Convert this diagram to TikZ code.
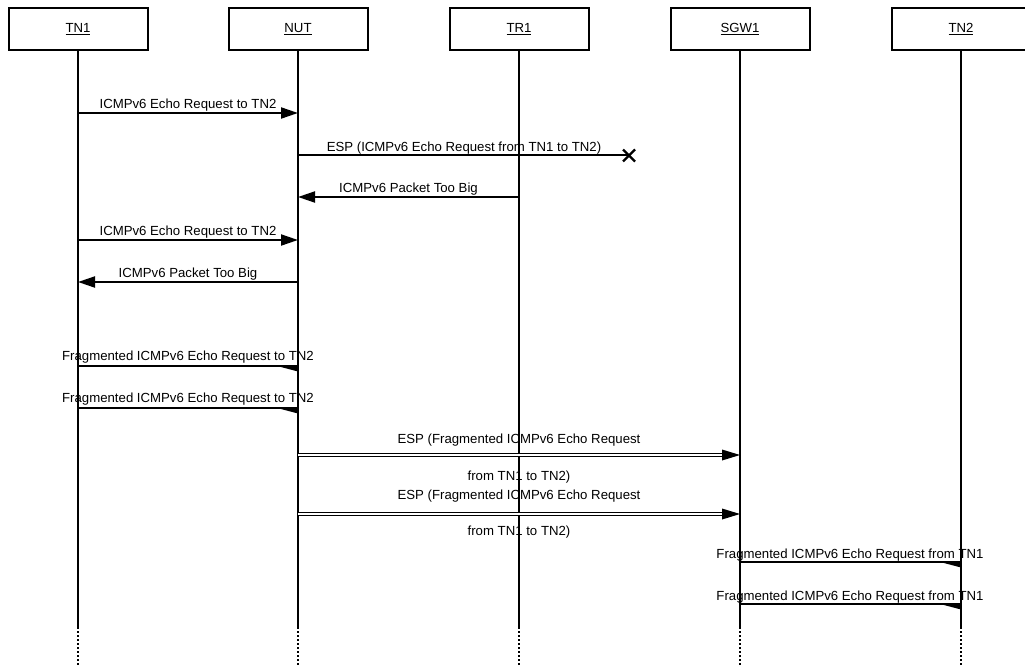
\documentclass[tikz,border=0pt]{standalone}
\usepackage{fontspec}
\setmainfont{Liberation Sans}
\usetikzlibrary{arrows.meta,calc}
\begin{document}
\begin{tikzpicture}[x=1pt,y=-1pt,
  actor/.style={draw, line width=2pt, minimum width=139pt, minimum height=42pt, inner sep=0pt, font=\fontsize{13.2}{15}\selectfont},
  life/.style={line width=2pt},
  lifedot/.style={line width=2pt, dash pattern=on 2pt off 2pt},
  msg/.style={line width=2pt, -{Triangle[length=17pt,width=11pt]}},
  plain/.style={line width=2pt},
  dbl/.style={line width=1.5pt, double, double distance=1.6pt, shorten >=15pt},
  lbl/.style={font=\fontsize{13.2}{15}\selectfont, inner sep=0pt, anchor=base},
  half/.style={fill=black},
]
\useasboundingbox (0,0) rectangle (1025,666);
% actors
\node[actor] (tn1) at (78,29) {\underline{TN1}};
\node[actor] (nut) at (298,29) {\underline{NUT}};
\node[actor] (tr1) at (519,29) {\underline{TR1}};
\node[actor] (sgw1) at (740,29) {\underline{SGW1}};
\node[actor] (tn2) at (961,29) {\underline{TN2}};
% lifeline ends
\coordinate (ysolid) at (0,627);
\coordinate (yend) at (0,666);
\foreach \a in {tn1,nut,tr1,sgw1,tn2}{
  \draw[life] (\a.south) -- (\a |- ysolid);
  \draw[lifedot] (\a |- ysolid) -- (\a |- yend);
}
% message rows
\coordinate (y1) at (0,113);
\coordinate (y2) at (0,155);
\coordinate (y3) at (0,197);
\coordinate (y4) at (0,240);
\coordinate (y5) at (0,282);
\coordinate (y6) at (0,366);
\coordinate (y7) at (0,408);
\coordinate (y8) at (0,455);
\coordinate (y9) at (0,514);
\coordinate (y10) at (0,562);
\coordinate (y11) at (0,604);
% 1
\draw[msg] (tn1|-y1) -- (nut|-y1);
\node[lbl] (l1) at (188,108.5) {ICMPv6 Echo Request to TN2};
% 2 lost
\coordinate (lost) at (629,155);
\draw[plain] (nut|-y2) -- (lost);
\draw[line width=2.2pt] ($(lost)+(-6,-5.5)$) -- ($(lost)+(6,6.5)$);
\draw[line width=2.2pt] ($(lost)+(-6,6.5)$) -- ($(lost)+(6,-5.5)$);
\node[lbl] (l2) at (464,151.5) {ESP (ICMPv6 Echo Request from TN1 to TN2)};
% 3
\draw[msg] (tr1|-y3) -- (nut|-y3);
\node[lbl] (l3) at (408.5,192.5) {ICMPv6 Packet Too Big};
% 4
\draw[msg] (tn1|-y4) -- (nut|-y4);
\node[lbl] (l4) at (188,235.5) {ICMPv6 Echo Request to TN2};
% 5
\draw[msg] (nut|-y5) -- (tn1|-y5);
\node[lbl] (l5) at (188,277.5) {ICMPv6 Packet Too Big};
% 6
\draw[plain] (tn1|-y6) -- (nut|-y6);
\fill[half] ($(nut|-y6)+(-19,0.5)$) -- ($(nut|-y6)+(0,-0.8)$) -- ($(nut|-y6)+(0,5.5)$) -- cycle;
\node[lbl] (l6) at (188,360) {Fragmented ICMPv6 Echo Request to TN2};
% 7
\draw[plain] (tn1|-y7) -- (nut|-y7);
\fill[half] ($(nut|-y7)+(-19,0.5)$) -- ($(nut|-y7)+(0,-0.8)$) -- ($(nut|-y7)+(0,5.5)$) -- cycle;
\node[lbl] (l7) at (188,402) {Fragmented ICMPv6 Echo Request to TN2};
% 8
\draw[dbl] (nut|-y8) -- (sgw1|-y8);
\fill (sgw1|-y8) -- ++(-18,-5.5) -- ++(0,11) -- cycle;
\node[lbl] (l8a) at (519,443) {ESP (Fragmented ICMPv6 Echo Request};
\node[lbl] (l8b) at (519,480) {from TN1 to TN2)};
% 9
\draw[dbl] (nut|-y9) -- (sgw1|-y9);
\fill (sgw1|-y9) -- ++(-18,-5.5) -- ++(0,11) -- cycle;
\node[lbl] (l9a) at (519,499.5) {ESP (Fragmented ICMPv6 Echo Request};
\node[lbl] (l9b) at (519,535) {from TN1 to TN2)};
% 10
\draw[plain] (sgw1|-y10) -- (tn2|-y10);
\fill[half] ($(tn2|-y10)+(-19,0.5)$) -- ($(tn2|-y10)+(0,-0.8)$) -- ($(tn2|-y10)+(0,5.5)$) -- cycle;
\node[lbl] (l10) at (850,558) {Fragmented ICMPv6 Echo Request from TN1};
% 11
\draw[plain] (sgw1|-y11) -- (tn2|-y11);
\fill[half] ($(tn2|-y11)+(-19,0.5)$) -- ($(tn2|-y11)+(0,-0.8)$) -- ($(tn2|-y11)+(0,5.5)$) -- cycle;
\node[lbl] (l11) at (850,600) {Fragmented ICMPv6 Echo Request from TN1};
\end{tikzpicture}
\end{document}
